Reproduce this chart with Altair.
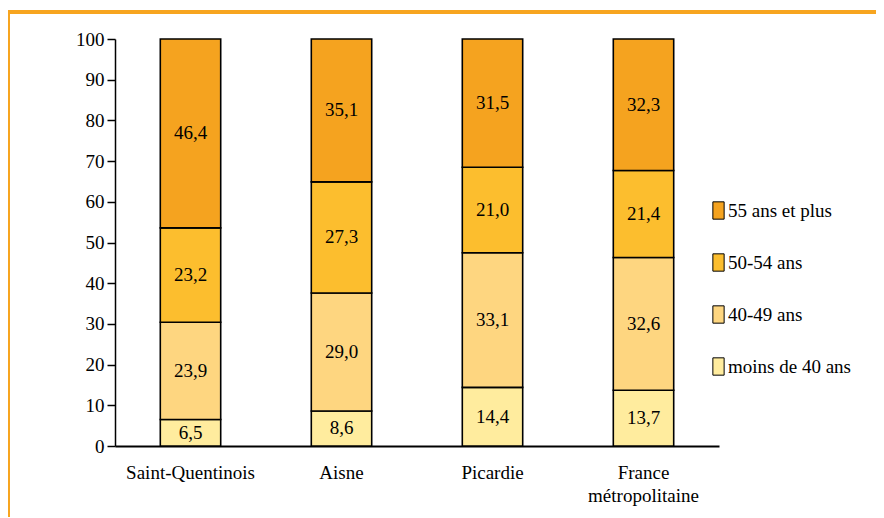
import altair as alt
import pandas as pd

regions = ["Saint-Quentinois", "Aisne", "Picardie", "France métropolitaine"]
groups = ["55 ans et plus", "50-54 ans", "40-49 ans", "moins de 40 ans"]
moins40 = [6.5, 8.6, 14.4, 13.7]
a40_49 = [23.9, 29.0, 33.1, 32.6]
a50_54 = [23.2, 27.3, 21.0, 21.4]
a55 = [46.4, 35.1, 31.5, 32.3]
colors = ["#F5A31F", "#FCBE2E", "#FED680", "#FFEC9E"]

series = {"moins de 40 ans": moins40, "40-49 ans": a40_49, "50-54 ans": a50_54, "55 ans et plus": a55}
rank = {"moins de 40 ans": 0, "40-49 ans": 1, "50-54 ans": 2, "55 ans et plus": 3}
rows = []
for g, vals in series.items():
    for r, v in zip(regions, vals):
        rows.append({"region": r, "group": g, "value": v, "rank": rank[g],
                     "label": f"{v:.1f}".replace(".", ",")})
df = pd.DataFrame(rows)

FONT = "Times New Roman"
FS = 19

base = alt.Chart(df).transform_stack(
    stack="value", as_=["y0", "y1"], groupby=["region"],
    sort=[alt.SortField("rank", order="ascending")]
)

xenc = alt.X("region:N", sort=regions, title=None,
             scale=alt.Scale(paddingInner=0.6, paddingOuter=0.3),
             axis=alt.Axis(labelAngle=0, ticks=False, domainColor="black", domainWidth=2,
                           labelFont=FONT, labelFontSize=FS, labelColor="black",
                           labelPadding=17, labelLineHeight=23,
                           labelExpr="datum.label == 'France métropolitaine' ? ['France', 'métropolitaine'] : datum.label"))

bars = base.mark_bar(stroke="black", strokeWidth=1.6).encode(
    x=xenc,
    y=alt.Y("y0:Q", title=None, scale=alt.Scale(domain=[0, 100], nice=False),
            axis=alt.Axis(values=list(range(0, 101, 10)), tickSize=8, tickColor="black",
                          tickWidth=1.5, domainColor="black", domainWidth=1.5, grid=False,
                          labelFont=FONT, labelFontSize=FS, labelColor="black", labelPadding=3)),
    y2="y1:Q",
    fill=alt.Fill("group:N", scale=alt.Scale(domain=groups, range=colors), title=None,
                  legend=alt.Legend(orient="none", legendX=594, legendY=162,
                                    symbolType="M-0.65,-1H0.65V1H-0.65Z", symbolSize=300,
                                    symbolStrokeColor="black", symbolStrokeWidth=1,
                                    symbolOpacity=1, labelFont=FONT, labelFontSize=FS,
                                    labelColor="black", labelOffset=0, rowPadding=29,
                                    labelLimit=300)),
)

texts = base.transform_calculate(mid="(datum.y0 + datum.y1) / 2").mark_text(
    font=FONT, fontSize=FS, color="black", baseline="middle"
).encode(
    x=alt.X("region:N", sort=regions),
    y=alt.Y("mid:Q"),
    text="label:N",
)

frame_df = pd.DataFrame({"a": [0]})
top_line = alt.Chart(frame_df).mark_rule(color="#F7A520", strokeWidth=4).encode(
    x=alt.value(-107), x2=alt.value(780), y=alt.value(-27))
left_line = alt.Chart(frame_df).mark_rule(color="#F7A520", strokeWidth=4).encode(
    x=alt.value(-107), y=alt.value(-29), y2=alt.value(490))

chart = alt.layer(bars, texts, top_line, left_line).properties(
    width=604, height=407,
    autosize=alt.AutoSizeParams(type="none"),
    padding={"left": 107, "top": 31, "right": 157, "bottom": 71},
).configure_view(stroke=None)

chart.save("out.html", embed_options={"renderer": "svg", "actions": False})
